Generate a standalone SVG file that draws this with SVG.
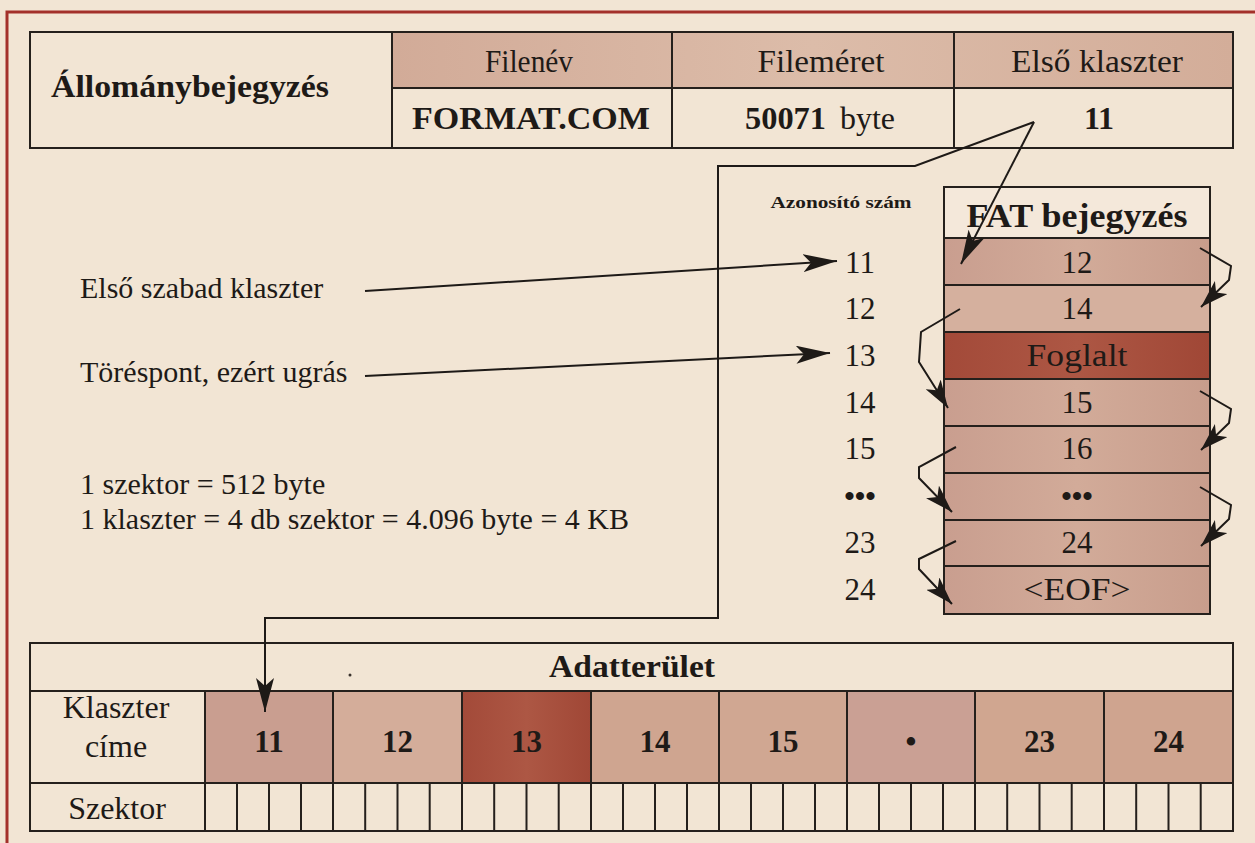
<svg xmlns="http://www.w3.org/2000/svg" width="1255" height="843" viewBox="0 0 1255 843">
<defs>
<style>
text{font-family:'Liberation Serif','Times New Roman',serif;fill:#1e1a17}
.b{font-weight:bold}
.ln{fill:none;stroke:#25201c;stroke-width:2}
.cn{fill:none;stroke:#1e1a17;stroke-width:2}
</style>
<linearGradient id="gHead" x1="0" y1="0" x2="1" y2="0">
<stop offset="0" stop-color="#d2ab98"/><stop offset="0.5" stop-color="#dcbca9"/><stop offset="1" stop-color="#d3ad99"/>
</linearGradient>
<linearGradient id="gPink" x1="0" y1="0" x2="1" y2="0">
<stop offset="0" stop-color="#c99e8f"/><stop offset="0.5" stop-color="#d2ab99"/><stop offset="1" stop-color="#c89d8c"/>
</linearGradient>
<linearGradient id="gDark" x1="0" y1="0" x2="1" y2="0">
<stop offset="0" stop-color="#a34a39"/><stop offset="0.5" stop-color="#ad5744"/><stop offset="1" stop-color="#a04736"/>
</linearGradient>
<marker id="ah" markerUnits="userSpaceOnUse" markerWidth="36" markerHeight="18" refX="34" refY="9" orient="auto">
<path d="M0,0 L34,9 L0,18 L8,9 Z" fill="#1e1a17"/>
</marker>
<marker id="ahs" markerUnits="userSpaceOnUse" markerWidth="30" markerHeight="18" refX="28" refY="9" orient="auto">
<path d="M0,0 L28,9 L0,18 L7,9 Z" fill="#1e1a17"/>
</marker>
</defs>

<rect x="0" y="0" width="1255" height="843" fill="#f2e5d4"/>
<path d="M7,843 L7,12 L1255,12" fill="none" stroke="#a3302a" stroke-width="3"/>

<g id="entry-table">
<rect x="392" y="32" width="841" height="56" fill="url(#gHead)"/>
<rect x="30" y="32" width="1203" height="116" class="ln"/>
<line x1="392" y1="88" x2="1233" y2="88" class="ln"/>
<line x1="392" y1="32" x2="392" y2="148" class="ln"/>
<line x1="672" y1="32" x2="672" y2="148" class="ln"/>
<line x1="954" y1="32" x2="954" y2="148" class="ln"/>
<text x="190" y="97" class="b" font-size="31" text-anchor="middle" textLength="278" lengthAdjust="spacingAndGlyphs">Állománybejegyzés</text>
<text x="529" y="72" font-size="31" text-anchor="middle" textLength="88" lengthAdjust="spacingAndGlyphs">Filenév</text>
<text x="531" y="129" class="b" font-size="31" text-anchor="middle" textLength="238" lengthAdjust="spacingAndGlyphs">FORMAT.COM</text>
<text x="821" y="72" font-size="32" text-anchor="middle" textLength="127" lengthAdjust="spacingAndGlyphs">Fileméret</text>
<text x="745" y="129" class="b" font-size="32" textLength="81" lengthAdjust="spacingAndGlyphs">50071</text>
<text x="840" y="129" font-size="32" textLength="55" lengthAdjust="spacingAndGlyphs">byte</text>
<text x="1097" y="72" font-size="32" text-anchor="middle" textLength="172" lengthAdjust="spacingAndGlyphs">Első klaszter</text>
<text x="1099" y="129" class="b" font-size="32" text-anchor="middle">11</text>
</g>

<g id="fat-table">
<rect x="944" y="187" width="266" height="51" fill="#f4e8da"/>
<rect x="944" y="238" width="266" height="47" fill="url(#gPink)"/>
<rect x="944" y="285" width="266" height="47" fill="#d5b09e"/>
<rect x="944" y="332" width="266" height="47" fill="url(#gDark)"/>
<rect x="944" y="379" width="266" height="47" fill="url(#gPink)"/>
<rect x="944" y="426" width="266" height="47" fill="url(#gPink)"/>
<rect x="944" y="473" width="266" height="47" fill="url(#gPink)"/>
<rect x="944" y="520" width="266" height="46" fill="url(#gPink)"/>
<rect x="944" y="566" width="266" height="48" fill="url(#gPink)"/>
<rect x="944" y="187" width="266" height="427" class="ln"/>
<path class="ln" d="M944,238H1210M944,285H1210M944,332H1210M944,379H1210M944,426H1210M944,473H1210M944,520H1210M944,566H1210"/>
<text x="1077" y="227" class="b" font-size="33" text-anchor="middle" textLength="221" lengthAdjust="spacingAndGlyphs">FAT bejegyzés</text>
<text x="1077" y="273" font-size="31" text-anchor="middle">12</text>
<text x="1077" y="319" font-size="31" text-anchor="middle">14</text>
<text x="1077" y="366" font-size="31" text-anchor="middle" textLength="101" lengthAdjust="spacingAndGlyphs">Foglalt</text>
<text x="1077" y="413" font-size="31" text-anchor="middle">15</text>
<text x="1077" y="459" font-size="31" text-anchor="middle">16</text>
<text x="1077" y="506" class="b" font-size="30" text-anchor="middle">•••</text>
<text x="1077" y="553" font-size="31" text-anchor="middle">24</text>
<text x="1077" y="600" font-size="31" text-anchor="middle" textLength="107" lengthAdjust="spacingAndGlyphs">&lt;EOF&gt;</text>
</g>

<g id="id-column">
<text x="841" y="208" class="b" font-size="16" text-anchor="middle" textLength="141" lengthAdjust="spacingAndGlyphs">Azonosító szám</text>
<text x="860" y="273" font-size="31" text-anchor="middle">11</text>
<text x="860" y="319" font-size="31" text-anchor="middle">12</text>
<text x="860" y="366" font-size="31" text-anchor="middle">13</text>
<text x="860" y="413" font-size="31" text-anchor="middle">14</text>
<text x="860" y="459" font-size="31" text-anchor="middle">15</text>
<text x="860" y="506" class="b" font-size="30" text-anchor="middle">•••</text>
<text x="860" y="553" font-size="31" text-anchor="middle">23</text>
<text x="860" y="600" font-size="31" text-anchor="middle">24</text>
</g>

<g id="notes">
<text x="80" y="298" font-size="30">Első szabad klaszter</text>
<text x="80" y="382" font-size="30">Töréspont, ezért ugrás</text>
<text x="80" y="494" font-size="30">1 szektor = 512 byte</text>
<text x="80" y="529" font-size="30">1 klaszter = 4 db szektor = 4.096 byte = 4 KB</text>
</g>

<g id="data-area">
<rect x="205" y="691" width="128" height="92" fill="#c99e90"/>
<rect x="333" y="691" width="129" height="92" fill="#d4ad9a"/>
<rect x="462" y="691" width="129" height="92" fill="url(#gDark)"/>
<rect x="591" y="691" width="128" height="92" fill="#cfa590"/>
<rect x="719" y="691" width="128" height="92" fill="#d0a792"/>
<rect x="847" y="691" width="128" height="92" fill="#caa094"/>
<rect x="975" y="691" width="129" height="92" fill="#d0a690"/>
<rect x="1104" y="691" width="129" height="92" fill="#cfa48f"/>
<rect x="30" y="643" width="1203" height="188" class="ln"/>
<path class="ln" d="M30,691H1233M30,783H1233M205,691V831"/>
<path class="ln" d="M333,691V831M462,691V831M591,691V831M719,691V831M847,691V831M975,691V831M1104,691V831"/>
<path class="ln" d="M237,783V831M269,783V831M301,783V831M365.2,783V831M397.5,783V831M429.7,783V831M494.2,783V831M526.5,783V831M558.7,783V831M623,783V831M655,783V831M687,783V831M751,783V831M783,783V831M815,783V831M879,783V831M911,783V831M943,783V831M1007.2,783V831M1039.5,783V831M1071.7,783V831M1136.2,783V831M1168.5,783V831M1200.7,783V831"/>
<text x="632" y="677" class="b" font-size="32" text-anchor="middle" textLength="166" lengthAdjust="spacingAndGlyphs">Adatterület</text>
<circle cx="350" cy="675" r="1.5" fill="#3a322c"/>
<text x="116" y="718" font-size="32" text-anchor="middle">Klaszter</text>
<text x="116" y="757" font-size="32" text-anchor="middle">címe</text>
<text x="117" y="819" font-size="32" text-anchor="middle">Szektor</text>
<text x="269" y="752" class="b" font-size="31" text-anchor="middle">11</text>
<text x="397.5" y="752" class="b" font-size="31" text-anchor="middle">12</text>
<text x="526.5" y="752" class="b" font-size="31" text-anchor="middle">13</text>
<text x="655" y="752" class="b" font-size="31" text-anchor="middle">14</text>
<text x="783" y="752" class="b" font-size="31" text-anchor="middle">15</text>
<text x="911" y="752" class="b" font-size="31" text-anchor="middle">•</text>
<text x="1039.5" y="752" class="b" font-size="31" text-anchor="middle">23</text>
<text x="1168.5" y="752" class="b" font-size="31" text-anchor="middle">24</text>
</g>

<g id="connectors">
<path class="cn" d="M1034,122 L915,166 L718,166 L718,618 L265,618 L265,712" marker-end="url(#ah)"/>
<path class="cn" d="M1034,122 L961,264" marker-end="url(#ah)"/>
<path class="cn" d="M365,291 L837,261" marker-end="url(#ah)"/>
<path class="cn" d="M365,376 L830,353" marker-end="url(#ah)"/>
<path class="cn" d="M1200,248 L1231,266 L1229,280 L1201,307" marker-end="url(#ahs)"/>
<path class="cn" d="M1200,391 L1231,409 L1229,423 L1201,450" marker-end="url(#ahs)"/>
<path class="cn" d="M1200,487 L1231,505 L1229,519 L1201,546" marker-end="url(#ahs)"/>
<path class="cn" d="M960,309 L921,332 L919,362 L948,408" marker-end="url(#ahs)"/>
<path class="cn" d="M956,447 L919,467 L919,478 L952,512" marker-end="url(#ahs)"/>
<path class="cn" d="M956,541 L919,559 L919,569 L952,604" marker-end="url(#ahs)"/>
</g>
</svg>
